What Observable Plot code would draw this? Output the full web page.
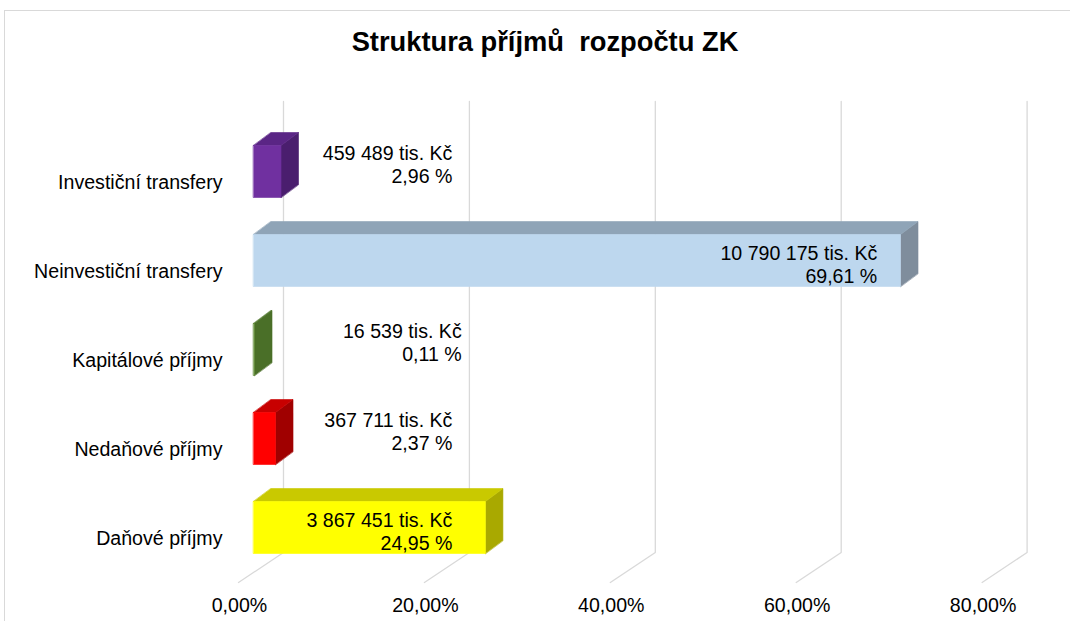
<!DOCTYPE html>
<html>
<head>
<meta charset="utf-8">
<script src="https://cdn.jsdelivr.net/npm/d3@7"></script>
<script src="https://cdn.jsdelivr.net/npm/@observablehq/plot@0.6"></script>
<style>
  html, body { margin: 0; padding: 0; background: #fff; }
  body { width: 1070px; height: 621px; position: relative; overflow: hidden; font-family: "Liberation Sans", Arial, sans-serif; }
  #frame { position: absolute; left: 4px; top: 10px; width: 1100px; height: 700px; border: 1px solid #d9d9d9; box-sizing: border-box; }
  #title { position: absolute; left: 0; top: 26px; width: 1090px; text-align: center; font-weight: bold; font-size: 27.3px; white-space: pre; color: #000; }
  #chart { position: absolute; left: 0; top: 0; }
</style>
</head>
<body>
<div id="frame"></div>
<div id="chart"></div>
<div id="title">Struktura příjmů  rozpočtu ZK</div>
<script>
// ---- data ----
const categories = ["Daňové příjmy", "Nedaňové příjmy", "Kapitálové příjmy", "Neinvestiční transfery", "Investiční transfery"];
const amounts = [3867451, 367711, 16539, 10790175, 459489]; // tis. Kč
const shares = [24.95, 2.37, 0.11, 69.61, 2.96];            // %
const tickValues = [0, 20, 40, 60, 80];
const tickLabels = ["0,00%", "20,00%", "40,00%", "60,00%", "80,00%"];

// ---- styles ----
const frontColors = ["#ffff00", "#ff0000", "#5f8b35", "#bdd7ee", "#7030a0"];
const topColors   = ["#c9c900", "#c80000", "#4f772b", "#8fa4b7", "#5a2585"];
const sideColors  = ["#a9a900", "#a00000", "#4a6f28", "#7f8d9c", "#4a1e6e"];

// ---- geometry helpers (pixel depth converted into data units) ----
const x0px = 253, x80px = 996.6;
const pxPerPct = (x80px - x0px) / 80;
const rowPx = 89;
const halfBar = 26 / rowPx;
const depthX = 17.5 / pxPerPct, depthY = 13 / rowPx;
const wallX = 30 / pxPerPct, floorFrontX = -15 / pxPerPct;
const wallTop = (527 - 101) / rowPx, floorBack = (527 - 552) / rowPx, floorFront = (527 - 582) / rowPx;

const fmtAmount = n => String(n).replace(/\B(?=(\d{3})+(?!\d))/g, " ");
const fmtPct = p => p.toFixed(2).replace(".", ",") + " %";

// polygons for 3D bars
const faces = [];
categories.forEach((c, i) => {
  const v = shares[i], y0 = i - halfBar, y1 = i + halfBar;
  const polys = [
    ["side", sideColors[i], [[v, y0], [v, y1], [v + depthX, y1 + depthY], [v + depthX, y0 + depthY]]],
    ["top", topColors[i], [[0, y1], [v, y1], [v + depthX, y1 + depthY], [depthX, y1 + depthY]]],
    ["front", frontColors[i], [[0, y0], [v, y0], [v, y1], [0, y1]]]
  ];
  polys.forEach(([name, color, pts]) => {
    pts.forEach(([x, y]) => faces.push({id: c + "-" + name, color, x, y}));
  });
});

// 3D gridlines
const grid = [];
tickValues.forEach(t => {
  grid.push({t, x: t + wallX, y: wallTop});
  grid.push({t, x: t + wallX, y: floorBack});
  grid.push({t, x: t + floorFrontX, y: floorFront});
});

const labels = categories.map((c, i) => {
  const v = shares[i];
  const inside = v > 20;
  return {
    y: i,
    x: v > 50 ? v - 2.5 : (v < 1 ? 22.4 : 21.4),
    dy: inside ? 4 : -7,
    text: fmtAmount(amounts[i]) + " tis. Kč\n" + fmtPct(v)
  };
});

const ticks = tickValues.map((t, i) => ({x: t, label: tickLabels[i]}));
const cats = categories.map((c, i) => ({y: i, label: c}));

const FS = 19.6;
const chart = Plot.plot({
  width: 1070,
  height: 621,
  x: {domain: [0, 80], range: [x0px, x80px], axis: null},
  y: {domain: [-1, 5], range: [616, 82], axis: null},
  color: {type: "identity"},
  style: {fontFamily: "'Liberation Sans', Arial, sans-serif", background: "transparent", overflow: "visible"},
  marks: [
    Plot.line(grid, {x: "x", y: "y", z: "t", stroke: "#d9d9d9", strokeWidth: 1.3}),
    Plot.line(faces, {x: "x", y: "y", z: "id", fill: "color", stroke: "color", strokeWidth: 0.6, curve: "linear-closed"}),
    Plot.text(labels.filter(d => d.dy > 0), {x: "x", y: "y", text: "text", dy: 4, textAnchor: "end", lineAnchor: "middle", lineHeight: 1.15, fontSize: FS, fill: "#000"}),
    Plot.text(labels.filter(d => d.dy < 0), {x: "x", y: "y", text: "text", dy: -7, textAnchor: "end", lineAnchor: "middle", lineHeight: 1.15, fontSize: FS, fill: "#000"}),
    Plot.text(cats, {x: () => 0, y: "y", text: "label", dx: -31, dy: 11, textAnchor: "end", lineAnchor: "middle", fontSize: FS, fill: "#000"}),
    Plot.text(ticks, {x: "x", y: () => floorFront, text: "label", dx: -14, dy: 23, textAnchor: "middle", lineAnchor: "middle", fontSize: FS, fill: "#000"})
  ]
});
document.getElementById("chart").appendChild(chart);
</script>
</body>
</html>
